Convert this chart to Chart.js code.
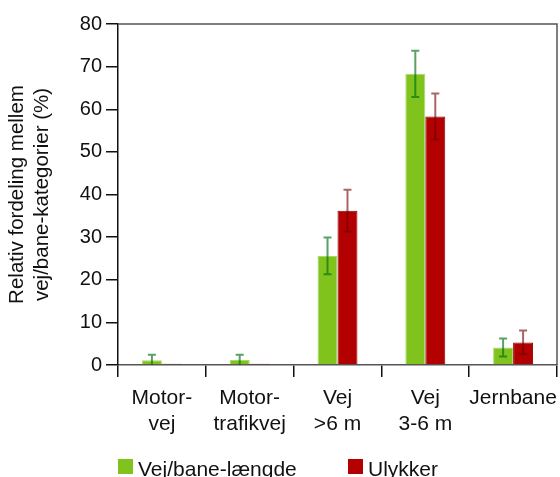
<!DOCTYPE html>
<html>
<head>
<meta charset="utf-8">
<script src="https://cdn.jsdelivr.net/npm/chart.js@4.4.1/dist/chart.umd.min.js"></script>
<style>
  body { margin: 0; background: #fff; }
  #wrap { position: relative; width: 560px; height: 477px; }
</style>
</head>
<body>
<div id="wrap"><canvas id="chart" width="560" height="477"></canvas></div>
<script>
// Categories (multi-line labels) and the two series with their error margins
const categories = [['Motor-', 'vej'], ['Motor-', 'trafikvej'], ['Vej', '>6 m'], ['Vej', '3-6 m'], ['Jernbane']];
const lengthShare = [1.1, 1.2, 25.6, 68.3, 4.1];
const lengthErr = [1.3, 1.2, 4.3, 5.4, 2.1];
const accidentShare = [0.3, 0.3, 36.2, 58.3, 5.3];
const accidentErr = [0, 0, 4.9, 5.4, 2.8];
const yTicks = [0, 10, 20, 30, 40, 50, 60, 70, 80];

const FONT = "'Liberation Sans', Arial, Helvetica, sans-serif";
const TEXT = '#111';

// Draws the +/- error whiskers on top of every bar
const errorBars = {
    id: 'errorBars',
    afterDatasetsDraw(chart) {
        const ctx = chart.ctx;
        const y = chart.scales.y;
        chart.data.datasets.forEach((ds, i) => {
            const meta = chart.getDatasetMeta(i);
            ctx.save();
            ctx.strokeStyle = ds.errColor;
            ctx.lineWidth = 2;
            meta.data.forEach((bar, j) => {
                const e = ds.errors[j];
                if (!e) return;
                const v = ds.data[j];
                const top = y.getPixelForValue(v + e);
                const bot = y.getPixelForValue(Math.max(v - e, 0));
                ctx.beginPath();
                ctx.moveTo(bar.x, top);
                ctx.lineTo(bar.x, bot);
                ctx.moveTo(bar.x - 4, top);
                ctx.lineTo(bar.x + 4, top);
                if (v - e > 0) {
                    ctx.moveTo(bar.x - 4, bot);
                    ctx.lineTo(bar.x + 4, bot);
                }
                ctx.stroke();
            });
            ctx.restore();
        });
    }
};

// Top and right frame lines of the plot box
const frame = {
    id: 'frame',
    beforeDatasetsDraw(chart) {
        const { ctx, chartArea: a } = chart;
        ctx.save();
        ctx.strokeStyle = '#555';
        ctx.lineWidth = 1.5;
        ctx.beginPath();
        ctx.moveTo(a.left, a.top);
        ctx.lineTo(a.right, a.top);
        ctx.lineTo(a.right, a.bottom);
        ctx.stroke();
        ctx.restore();
    }
};

// Legend drawn below the axis labels
const bottomLegend = {
    id: 'bottomLegend',
    afterDraw(chart) {
        const ctx = chart.ctx;
        const xs = [118, 348];
        ctx.save();
        ctx.font = '21px ' + FONT;
        ctx.textBaseline = 'alphabetic';
        chart.data.datasets.forEach((ds, i) => {
            ctx.fillStyle = ds.backgroundColor;
            ctx.fillRect(xs[i], 459, 15, 15);
            ctx.fillStyle = TEXT;
            ctx.fillText(ds.label, xs[i] + 20, 476);
        });
        ctx.restore();
    }
};

new Chart(document.getElementById('chart'), {
    type: 'bar',
    data: {
        labels: categories,
        datasets: [
            {
                label: 'Vej/bane-længde',
                data: lengthShare,
                errors: lengthErr,
                errColor: 'rgba(0,110,20,0.65)',
                backgroundColor: '#80c31c',
                borderColor: '#a9d96a',
                borderWidth: 1
            },
            {
                label: 'Ulykker',
                data: accidentShare,
                errors: accidentErr,
                errColor: 'rgba(110,0,0,0.6)',
                backgroundColor: '#b30000',
                borderColor: '#8a0000',
                borderWidth: 1
            }
        ]
    },
    options: {
        responsive: false,
        animation: false,
        categoryPercentage: 0.455,
        barPercentage: 1,
        layout: { padding: { top: 24, right: 3, bottom: 0, left: 0 } },
        plugins: {
            legend: { display: false },
            tooltip: { enabled: false }
        },
        scales: {
            x: {
                offset: true,
                border: { color: '#555', width: 1.5 },
                grid: { offset: true, drawOnChartArea: false, drawTicks: true, tickLength: 12, color: '#111', lineWidth: 1.5 },
                ticks: {
                    color: TEXT,
                    font: { family: FONT, size: 21, lineHeight: 1.25 },
                    maxRotation: 0,
                    autoSkip: false,
                    padding: 8
                },
                afterFit(scale) {
                    scale.height = 112;
                    // let "Jernbane" run to the frame edge without squeezing the plot
                    scale.paddingLeft = 0;
                    scale.paddingRight = 0;
                }
            },
            y: {
                min: 0,
                max: 80,
                border: { color: '#111', width: 1.5 },
                grid: { drawOnChartArea: false, drawTicks: true, tickLength: 12, color: '#111', lineWidth: 1.5 },
                afterBuildTicks(scale) { scale.ticks = yTicks.map(v => ({ value: v })); },
                ticks: {
                    color: TEXT,
                    font: { family: FONT, size: 20 },
                    padding: 4
                },
                title: {
                    display: true,
                    text: ['Relativ fordeling mellem', 'vej/bane-kategorier (%)'],
                    color: TEXT,
                    font: { family: FONT, size: 20.5, lineHeight: 1.22 },
                    padding: { top: 5, bottom: 0 }
                },
                afterFit(scale) { scale.width = 118; }
            }
        }
    },
    plugins: [errorBars, frame, bottomLegend]
});
</script>
</body>
</html>
